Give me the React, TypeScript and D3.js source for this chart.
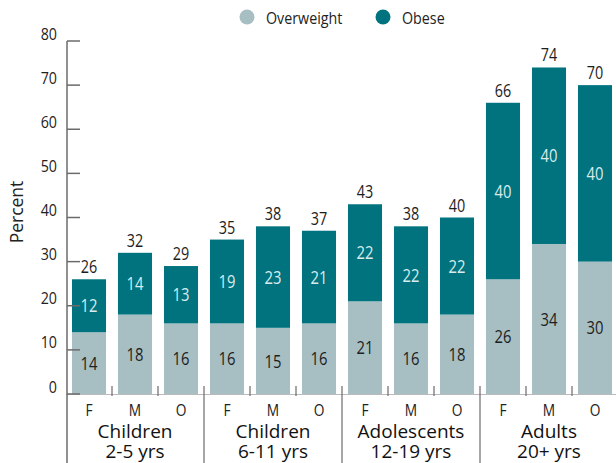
import React from "react";
import * as d3 from "d3";

const groups = ["Children|2-5 yrs", "Children|6-11 yrs", "Adolescents|12-19 yrs", "Adults|20+ yrs"];
const sexes = ["F", "M", "O"];
const overweight = [14, 18, 16, 16, 15, 16, 21, 16, 18, 26, 34, 30];
const obese = [12, 14, 13, 19, 23, 21, 22, 22, 22, 40, 40, 40];
const totals = [26, 32, 29, 35, 38, 37, 43, 38, 40, 66, 74, 70];
const yTicks = [0, 10, 20, 30, 40, 50, 60, 70, 80];
const legendItems = ["Overweight", "Obese"];

const W = 616;
const H = 463;
const C_OW = "#a7bec3";
const C_OB = "#00737e";
const AXIS = "#6b6b6b";
const FONT = "'Open Sans', 'Noto Sans', sans-serif";

function CText(props: {
  x: number; y: number; size: number; fill: string; anchor?: string; sx?: number; dy?: string; children: React.ReactNode;
}) {
  const { x, y, size, fill, anchor = "middle", sx = 0.86, dy, children } = props;
  return (
    <g transform={`translate(${x},${y}) scale(${sx},1)`}>
      <text x={0} y={0} dy={dy} textAnchor={anchor} fontSize={size} fill={fill} fontFamily={FONT} fontWeight={400}>
        {children}
      </text>
    </g>
  );
}

export default function App() {
  const idx = d3.range(overweight.length);
  const x = d3.scaleBand<number>().domain(idx).range([66, 618]).paddingInner(0.26).paddingOuter(0.13);
  const y = d3.scaleLinear().domain([0, 80]).range([394, 41]);
  const step = x.step();
  const x0 = 66;
  const yBase = y(0);

  return (
    <svg width={W} height={H} style={{ position: "absolute", left: 0, top: 0, background: "#fff" }}>
      {/* legend */}
      {legendItems.map((name, i) => {
        const cx = i === 0 ? 247 : 383;
        return (
          <g key={name}>
            <circle cx={cx} cy={17} r={7.5} fill={i === 0 ? C_OW : C_OB} />
            <CText x={cx + 19} y={23.5} size={17} fill="#222" anchor="start" sx={0.84}>{name}</CText>
          </g>
        );
      })}

      {/* y axis label */}
      <text transform={`translate(23,212) rotate(-90)`} textAnchor="middle" fontSize={17.5} fill="#222" fontFamily={FONT}>Percent</text>

      {/* baseline */}
      <line x1={x0} x2={618} y1={yBase + 0.5} y2={yBase + 0.5} stroke="#bbb" strokeWidth={1} />

      {/* bars */}
      {idx.map((i) => {
        const bx = x(i)!;
        const bw = x.bandwidth();
        const yOwTop = y(overweight[i]);
        const yObTop = y(overweight[i] + obese[i]);
        const cx = bx + bw / 2;
        return (
          <g key={i}>
            <rect x={bx} y={yOwTop} width={bw} height={yBase - yOwTop} fill={C_OW} />
            <rect x={bx} y={yObTop} width={bw} height={yOwTop - yObTop} fill={C_OB} />
            <CText x={cx} y={(yOwTop + yBase) / 2} dy="0.36em" size={18.5} fill="#1e1e1e" sx={0.8}>{overweight[i]}</CText>
            <CText x={cx} y={(yObTop + yOwTop) / 2} dy="0.36em" size={18.5} fill="#d8ecee" sx={0.8}>{obese[i]}</CText>
            <CText x={cx} y={yObTop - 6} size={18} fill="#1e1e1e" sx={0.8}>{totals[i]}</CText>
          </g>
        );
      })}

      {/* y axis */}
      <line x1={x0 + 1} x2={x0 + 1} y1={y(80)} y2={H} stroke={AXIS} strokeWidth={1.5} />
      {yTicks.map((t) => (
        <g key={t}>
          <line x1={x0 + 1} x2={80} y1={y(t)} y2={y(t)} stroke={AXIS} strokeWidth={1.5} />
          <CText x={57} y={y(t) - 1.5} size={17} fill="#222" anchor="end" sx={0.84}>{t}</CText>
        </g>
      ))}

      {/* x ticks */}
      {d3.range(1, overweight.length).map((k) => {
        const tx = x0 + k * step;
        const isGroup = k % 3 === 0;
        return (
          <line key={k} x1={tx} x2={tx} y1={386} y2={isGroup ? H : 396} stroke={AXIS} strokeWidth={1.2} />
        );
      })}

      {/* sex labels */}
      {idx.map((i) => (
        <CText key={i} x={x(i)! + x.bandwidth() / 2} y={416} size={16} fill="#222" sx={0.86}>{sexes[i % 3]}</CText>
      ))}

      {/* group labels */}
      {groups.map((g, gi) => {
        const [l1, l2] = g.split("|");
        const cx = x0 + (gi * 3 + 1.5) * step;
        return (
          <g key={g}>
            <text x={cx} y={438} textAnchor="middle" fontSize={19} fill="#111" fontFamily={FONT}>{l1}</text>
            <text x={cx} y={458} textAnchor="middle" fontSize={19} fill="#111" fontFamily={FONT}>{l2}</text>
          </g>
        );
      })}
    </svg>
  );
}
